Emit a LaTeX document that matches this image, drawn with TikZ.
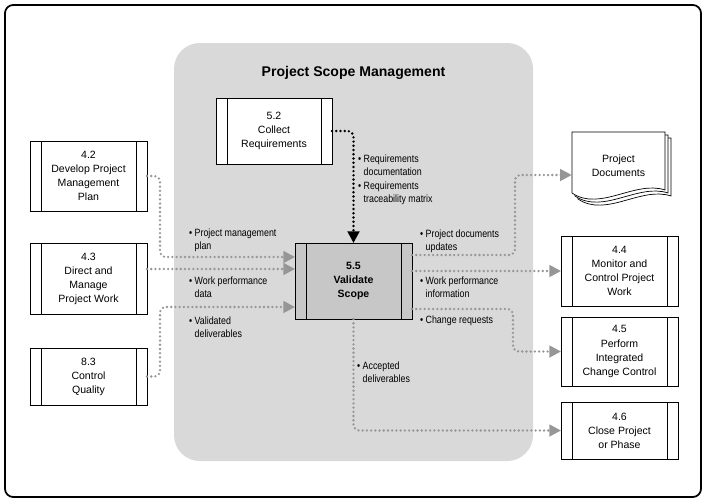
\documentclass[tikz,border=0pt]{standalone}
\usepackage{fontspec}
\setmainfont{Liberation Sans}
\newfontfamily\condfont[FakeStretch=0.84]{Liberation Sans}
\usetikzlibrary{arrows.meta,calc}

\definecolor{scopegray}{RGB}{217,217,217}
\definecolor{procgray}{RGB}{199,199,199}
\definecolor{flowgray}{RGB}{150,150,150}

\newcommand{\blt}[2]{\begin{tabular}{@{}l@{\hspace{2pt}}l@{}}\textbullet & #1\\ & #2\end{tabular}}

\tikzset{
  proc/.style={draw, fill=white, line width=0.75pt, minimum width=3.51cm, inner sep=0pt, outer sep=0pt,
    align=center, font=\fontsize{9}{12}\selectfont,
    path picture={\draw[line width=0.6pt]
      ([xshift=0.33cm]path picture bounding box.north west) -- ([xshift=0.33cm]path picture bounding box.south west)
      ([xshift=-0.33cm]path picture bounding box.north east) -- ([xshift=-0.33cm]path picture bounding box.south east);}},
  flow/.style={flowgray, line width=2.2pt, dash pattern=on 0pt off 3.6pt, line cap=round, rounded corners=5pt,
    -{Triangle[length=10pt,width=10pt]}},
  reqflow/.style={flow, black, line width=2.3pt},
  lbl/.style={font=\condfont\fontsize{9}{10.5}\selectfont, anchor=north west, inner sep=0pt}
}

\begin{document}
\begin{tikzpicture}[x=0.03cm,y=-0.03cm]
\useasboundingbox (0,0) rectangle (706,502);
\draw[line width=1.5pt, rounded corners=7pt] (5,5) rectangle (701,497);
\fill[scopegray, rounded corners=22pt] (174,43) rectangle (533,461);
\node[font=\fontsize{12}{14}\selectfont\bfseries] (title) at (353.5,73) {Project Scope Management};

\node[proc, minimum height=2.1cm] (p42) at (88.5,176) {4.2\\Develop Project\\Management\\Plan};
\node[proc, minimum height=2.13cm] (p43) at (88.5,279) {4.3\\Direct and\\Manage\\Project Work};
\node[proc, minimum height=1.71cm] (p83) at (88.5,376.5) {8.3\\Control\\Quality};
\node[proc, minimum width=3.48cm, minimum height=1.98cm] (p52) at (274,131) {5.2\\Collect\\Requirements};
\node[proc, fill=procgray, minimum height=2.28cm, font=\fontsize{9}{12}\selectfont\bfseries] (p55) at (353.5,281) {5.5\\Validate\\Scope};
\node[proc, minimum height=2.1cm] (p44) at (619.5,271) {4.4\\Monitor and\\Control Project\\Work};
\node[proc, minimum height=2.07cm] (p45) at (619.5,351.5) {4.5\\Perform\\Integrated\\Change Control};
\node[proc, minimum height=1.71cm] (p46) at (619.5,430.5) {4.6\\Close Project\\or Phase};

\foreach \d in {6,3,0}
  \draw[line width=0.6pt, fill=white] (572+\d,132+\d) -- (665+\d,132+\d) -- (665+\d,190+\d)
    .. controls (635+\d,180+\d) and (600+\d,212+\d) .. (572+\d,193+\d) -- cycle;
\node[minimum width=2.79cm, minimum height=2.04cm, inner sep=0pt, align=center, font=\fontsize{9}{12}\selectfont] (docs) at (618.5,166) {Project\\Documents};

\draw[reqflow] (p52.east) -| (p55.north);
\draw[flow] (p42.east) -- ++(13,0) |- ($(p55.west)+(0,-24)$);
\draw[flow] ($(p43.east)+(0,-10)$) -- ($(p43.east -| p55.west)+(0,-10)$);
\draw[flow] (p83.east) -- ++(13,0) |- ($(p55.west)+(0,26)$);
\draw[flow] ($(p55.east)+(0,-26)$) -- ++(103,0) |- ($(docs.west)+(0,9)$);
\draw[flow] (p55.east |- p44.west) -- (p44.west);
\draw[flow] ($(p55.east)+(0,28)$) -- ++(101,0) |- (p45.west);
\draw[flow] (p55.south) |- (p46.west);

\node[lbl] (lreqdoc) at (358,154) {\blt{Requirements}{documentation}};
\node[lbl] (lreqtrm) at (358,181) {\blt{Requirements}{traceability matrix}};
\node[lbl] (lpmp) at (189,228) {\blt{Project management}{plan}};
\node[lbl] (lwpd) at (189,276) {\blt{Work performance}{data}};
\node[lbl] (lvd) at (189,316) {\blt{Validated}{deliverables}};
\node[lbl] (lpdu) at (420,229) {\blt{Project documents}{updates}};
\node[lbl] (lwpi) at (420,276) {\blt{Work performance}{information}};
\node[lbl] (lcr) at (420,315) {\blt{Change requests}{}};
\node[lbl] (lad) at (357,361) {\blt{Accepted}{deliverables}};
\end{tikzpicture}
\end{document}
